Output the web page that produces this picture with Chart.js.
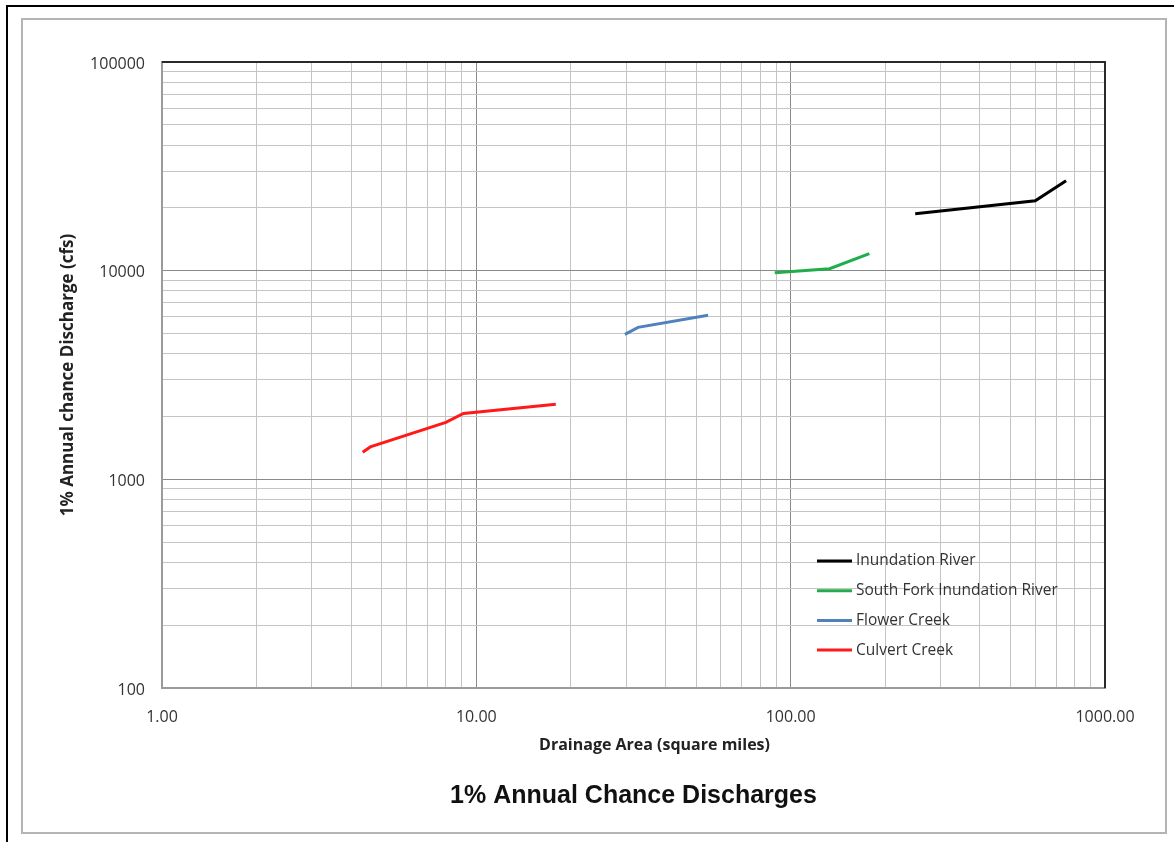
<!DOCTYPE html>
<html>
<head>
<meta charset="utf-8">
<script src="https://cdn.jsdelivr.net/npm/chart.js@4"></script>
<style>
  body { margin: 0; background: #fff; }
  #frame { position: absolute; left: 6px; top: 5px; right: -4px; bottom: -4px; border-left: 2px solid #000; border-top: 2px solid #000; }
  #panel { position: absolute; left: 21px; top: 18px; width: 1142px; height: 812px; border: 2px solid #b4b4b4; }
  #wrap { position: relative; width: 1142px; height: 812px; }
</style>
</head>
<body>
<div id="frame"></div>
<div id="panel"><div id="wrap"><canvas id="chart"></canvas></div></div>
<script>
// --- values ---
const inundationArea = [249, 600, 752];
const inundationFlow = [18750, 21630, 26980];
const southForkArea = [89, 133, 178];
const southForkFlow = [9780, 10220, 12060];
const flowerArea = [29.7, 32.7, 54.6];
const flowerFlow = [4950, 5350, 6110];
const culvertArea = [4.35, 4.6, 8.0, 9.1, 17.9];
const culvertFlow = [1350, 1430, 1875, 2070, 2290];

const xDecades = [1, 10, 100, 1000];
const xTickLabels = ['1.00', '10.00', '100.00', '1000.00'];
const yDecades = [100, 1000, 10000, 100000];
const yTickLabels = ['100', '1000', '10000', '100000'];

const pts = (xs, ys) => xs.map((x, i) => ({ x: x, y: ys[i] }));

// 1..9 x 10^k between first and last decade
function logTicks(decades) {
    const out = [];
    decades.forEach((d, i) => {
        if (i === decades.length - 1) { out.push({ value: d }); return; }
        for (let m = 1; m <= 9; m++) out.push({ value: d * m });
    });
    return out;
}
const isDecade = (v, list) => list.some(d => Math.abs(d - v) < d * 1e-6);

const tickFont = { family: 'Open Sans', size: 16 };

const gridColor = list => c => isDecade(c.tick.value, list) ? '#8a8a8a' : '#c4c4c4';

// frame of the plot area, legend inside, x-axis title
const extras = {
    id: 'extras',
    afterDatasetsDraw(chart) {
        const { ctx, chartArea: a } = chart;
        ctx.save();
        ctx.strokeStyle = '#2a2a2a';
        ctx.lineWidth = 2;
        ctx.beginPath();
        ctx.moveTo(a.left, a.top);
        ctx.lineTo(a.right, a.top);
        ctx.lineTo(a.right, a.bottom);
        ctx.stroke();

        // legend
        const x0 = a.right - 288;
        let y = a.bottom - 127;
        ctx.font = '15.5px "Open Sans"';
        ctx.textBaseline = 'middle';
        ctx.textAlign = 'left';
        chart.data.datasets.forEach(ds => {
            ctx.strokeStyle = ds.borderColor;
            ctx.lineWidth = 3;
            ctx.beginPath();
            ctx.moveTo(x0, y);
            ctx.lineTo(x0 + 35, y);
            ctx.stroke();
            ctx.fillStyle = '#333';
            ctx.fillText(ds.label, x0 + 39, y);
            y += 29.7;
        });

        // x-axis title
        ctx.font = 'bold 16px "Open Sans"';
        ctx.textAlign = 'center';
        ctx.fillStyle = '#222';
        ctx.fillText('Drainage Area (square miles)', (a.left + a.right) / 2 + 21, a.bottom + 57);
        ctx.restore();
    }
};

new Chart(document.getElementById('chart'), {
    type: 'scatter',
    data: {
        datasets: [
            { label: 'Inundation River', data: pts(inundationArea, inundationFlow), borderColor: '#000000' },
            { label: 'South Fork Inundation River', data: pts(southForkArea, southForkFlow), borderColor: '#20ad4a' },
            { label: 'Flower Creek', data: pts(flowerArea, flowerFlow), borderColor: '#4f81bd' },
            { label: 'Culvert Creek', data: pts(culvertArea, culvertFlow), borderColor: '#ff1a1a' }
        ].map(ds => Object.assign(ds, { showLine: true, borderWidth: 3, pointRadius: 0, fill: false, tension: 0 }))
    },
    options: {
        responsive: true,
        maintainAspectRatio: false,
        animation: false,
        layout: { padding: { left: 20, right: 60, top: 42, bottom: 0 } },
        plugins: {
            legend: { display: false },
            tooltip: { enabled: false },
            title: {
                display: true,
                position: 'bottom',
                fullSize: false,
                text: '1% Annual Chance Discharges',
                color: '#111',
                font: { family: 'Liberation Sans', size: 25, weight: 'bold' },
                padding: { top: 8, bottom: 21 }
            }
        },
        scales: {
            x: {
                type: 'logarithmic',
                min: xDecades[0],
                max: xDecades[xDecades.length - 1],
                afterBuildTicks: s => { s.ticks = logTicks(xDecades); },
                afterFit: s => { s.height = 85; },
                border: { color: '#9a9a9a', width: 2 },
                grid: { color: gridColor(xDecades), drawTicks: false },
                ticks: {
                    autoSkip: false, maxRotation: 0, padding: 20, color: '#333', font: tickFont,
                    callback: v => { const i = xDecades.findIndex(d => isDecade(v, [d])); return i >= 0 ? xTickLabels[i] : ''; }
                },
                title: { display: false }
            },
            y: {
                type: 'logarithmic',
                min: yDecades[0],
                max: yDecades[yDecades.length - 1],
                afterBuildTicks: s => { s.ticks = logTicks(yDecades); },
                afterFit: s => { s.width = 119; },
                border: { color: '#9a9a9a', width: 2 },
                grid: { color: gridColor(yDecades), drawTicks: false },
                ticks: {
                    autoSkip: false, padding: 17, labelOffset: 2, color: '#333', font: tickFont,
                    callback: v => { const i = yDecades.findIndex(d => isDecade(v, [d])); return i >= 0 ? yTickLabels[i] : ''; }
                },
                title: {
                    display: true,
                    text: '1% Annual chance Discharge (cfs)',
                    color: '#222',
                    font: { family: 'Open Sans', size: 17, weight: 'bold' },
                    padding: { top: 15, bottom: 0 }
                }
            }
        }
    },
    plugins: [extras]
});
</script>
</body>
</html>
